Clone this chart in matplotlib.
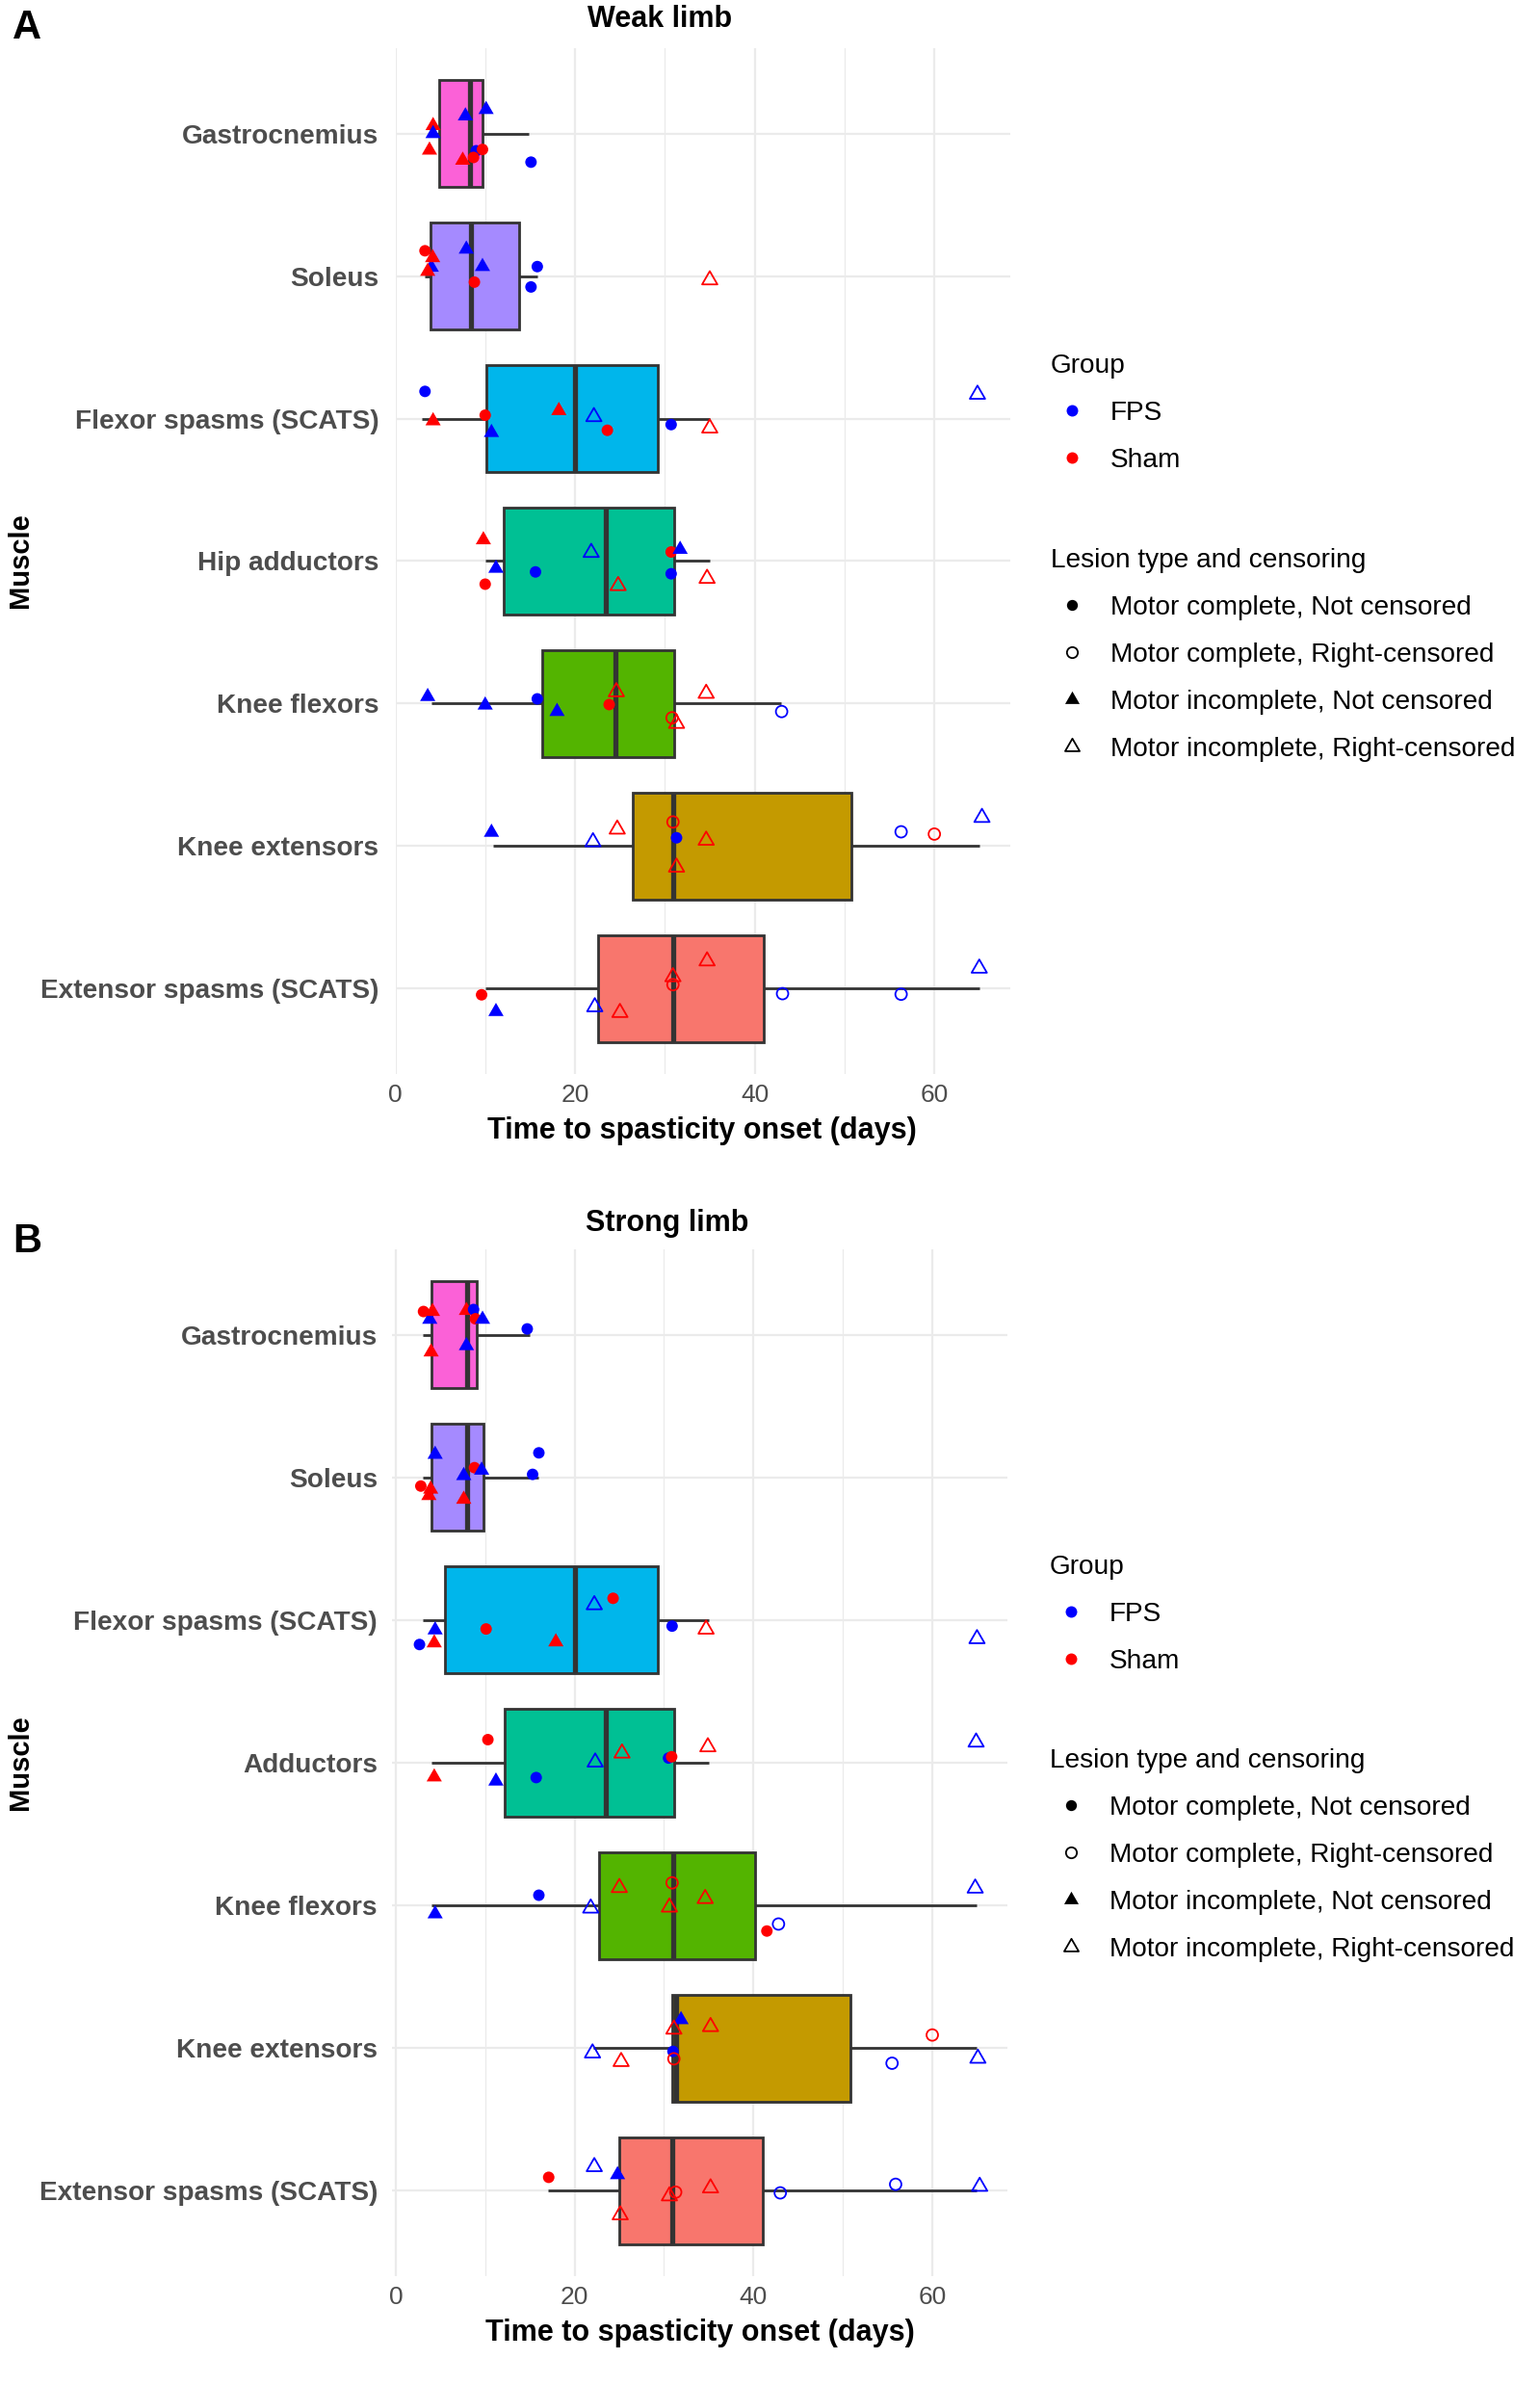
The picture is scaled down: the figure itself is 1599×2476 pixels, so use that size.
import matplotlib
matplotlib.use("Agg")
import matplotlib.pyplot as plt
from matplotlib.path import Path
from matplotlib.lines import Line2D
import numpy as np

plt.rcParams['font.family'] = ['Liberation Sans', 'DejaVu Sans']

# ---------------- data ----------------
weak_muscles = ["Gastrocnemius", "Soleus", "Flexor spasms (SCATS)", "Hip adductors",
                "Knee flexors", "Knee extensors", "Extensor spasms (SCATS)"]
strong_muscles = ["Gastrocnemius", "Soleus", "Flexor spasms (SCATS)", "Adductors",
                  "Knee flexors", "Knee extensors", "Extensor spasms (SCATS)"]
box_colors = ["#FB61D7", "#A58AFF", "#00B6EB", "#00C094", "#53B400", "#C49A00", "#F8766D"]

# box statistics (days)
weak_q1 = [4.9, 3.9, 10.1, 12.1, 16.4, 26.4, 22.6]
weak_med = [8.35, 8.4, 20.0, 23.4, 24.5, 30.9, 30.9]
weak_q3 = [9.7, 13.75, 29.2, 31.0, 31.0, 50.8, 41.0]
weak_lo = [3.8, 3.3, 2.9, 10.0, 4.0, 10.9, 10.0]
weak_hi = [14.9, 15.85, 35.0, 35.0, 42.9, 65.0, 65.0]

strong_q1 = [4.0, 4.0, 5.5, 12.2, 22.7, 30.9, 25.0]
strong_med = [8.0, 8.0, 20.0, 23.5, 31.0, 31.4, 30.9]
strong_q3 = [9.1, 9.8, 29.3, 31.1, 40.2, 50.8, 41.0]
strong_lo = [3.05, 3.05, 3.05, 4.0, 4.0, 22.1, 17.0]
strong_hi = [15.0, 15.9, 35.0, 35.0, 64.9, 64.9, 64.9]

# individual observations: row index, days, group, lesion/censoring type, vertical jitter
# types: CN = motor complete not censored, CR = motor complete right-censored,
#        IN = motor incomplete not censored, IR = motor incomplete right-censored
weak_pt_row = [0]*10 + [1]*10 + [2]*10 + [3]*10 + [4]*10 + [5]*10 + [6]*10
weak_pt_days = [7.8, 10.1, 4.2, 4.2, 3.8, 7.5, 9.0, 9.7, 8.7, 15.1,
                3.3, 4.0, 4.15, 3.6, 7.9, 9.7, 8.8, 15.8, 15.1, 35.0,
                3.3, 4.2, 10.0, 10.7, 18.2, 22.1, 23.6, 30.7, 35.0, 64.8,
                9.8, 11.2, 10.0, 15.6, 21.8, 24.8, 30.7, 31.7, 30.7, 34.7,
                3.6, 10.0, 15.8, 18.0, 23.8, 24.6, 34.6, 30.8, 31.3, 43.0,
                10.7, 22.0, 24.7, 30.9, 31.3, 34.6, 31.3, 56.3, 60.0, 65.3,
                9.6, 11.2, 22.2, 25.0, 30.9, 30.9, 34.7, 43.1, 56.3, 65.0]
weak_pt_group = ["FPS", "FPS", "Sham", "FPS", "Sham", "Sham", "FPS", "Sham", "Sham", "FPS",
                 "Sham", "FPS", "Sham", "Sham", "FPS", "FPS", "Sham", "FPS", "FPS", "Sham",
                 "FPS", "Sham", "Sham", "FPS", "Sham", "FPS", "Sham", "FPS", "Sham", "FPS",
                 "Sham", "FPS", "Sham", "FPS", "FPS", "Sham", "Sham", "FPS", "FPS", "Sham",
                 "FPS", "FPS", "FPS", "FPS", "Sham", "Sham", "Sham", "Sham", "Sham", "FPS",
                 "FPS", "FPS", "Sham", "Sham", "FPS", "Sham", "Sham", "FPS", "Sham", "FPS",
                 "Sham", "FPS", "FPS", "Sham", "Sham", "Sham", "Sham", "FPS", "FPS", "FPS"]
weak_pt_type = ["IN", "IN", "IN", "IN", "IN", "IN", "CN", "CN", "CN", "CN",
                "CN", "IN", "IN", "IN", "IN", "IN", "CN", "CN", "CN", "IR",
                "CN", "IN", "CN", "IN", "IN", "IR", "CN", "CN", "IR", "IR",
                "IN", "IN", "CN", "CN", "IR", "IR", "CN", "IN", "CN", "IR",
                "IN", "IN", "CN", "IN", "CN", "IR", "IR", "CR", "IR", "CR",
                "IN", "IR", "IR", "CR", "CN", "IR", "IR", "CR", "CR", "IR",
                "CN", "IN", "IR", "IR", "IR", "CR", "IR", "CR", "CR", "IR"]
weak_pt_jitter = [-0.124, -0.169, -0.056, 0.0, 0.116, 0.187, 0.12, 0.111, 0.167, 0.2,
                  -0.178, -0.062, -0.129, -0.033, -0.189, -0.067, 0.042, -0.067, 0.076, 0.027,
                  -0.191, 0.016, -0.024, 0.098, -0.056, -0.013, 0.082, 0.042, 0.067, -0.17,
                  -0.149, 0.051, 0.162, 0.076, -0.06, 0.173, -0.064, -0.082, 0.089, 0.122,
                  -0.049, 0.011, -0.033, 0.056, 0.007, -0.082, -0.071, 0.1, 0.14, 0.056,
                  -0.096, -0.029, -0.118, -0.169, -0.058, -0.04, 0.149, -0.1, -0.084, -0.2,
                  0.044, 0.162, 0.129, 0.169, -0.082, -0.027, -0.193, 0.036, 0.04, -0.142]

strong_pt_row = [0]*10 + [1]*10 + [2]*10 + [3]*10 + [4]*10 + [5]*10 + [6]*10
strong_pt_days = [3.1, 3.8, 4.1, 3.95, 7.9, 8.7, 8.9, 9.7, 7.9, 14.7,
                  4.4, 2.8, 3.9, 3.7, 7.6, 7.6, 8.8, 9.6, 16.0, 15.3,
                  4.4, 2.65, 4.3, 10.1, 17.9, 22.2, 24.3, 30.9, 34.7, 65.0,
                  10.3, 4.3, 11.2, 15.7, 22.3, 25.3, 30.5, 30.85, 34.9, 64.9,
                  16.0, 4.4, 21.8, 25.0, 30.9, 30.6, 34.6, 64.8, 41.5, 42.8,
                  22.0, 25.2, 31.9, 31.1, 35.2, 31.0, 31.1, 55.5, 60.0, 65.1,
                  17.1, 22.2, 24.8, 25.1, 30.6, 31.3, 35.2, 43.0, 55.9, 65.3]
strong_pt_group = ["Sham", "FPS", "Sham", "Sham", "Sham", "FPS", "Sham", "FPS", "FPS", "FPS",
                   "FPS", "Sham", "Sham", "Sham", "FPS", "Sham", "Sham", "FPS", "FPS", "FPS",
                   "FPS", "FPS", "Sham", "Sham", "Sham", "FPS", "Sham", "FPS", "Sham", "FPS",
                   "Sham", "Sham", "FPS", "FPS", "FPS", "Sham", "FPS", "Sham", "Sham", "FPS",
                   "FPS", "FPS", "FPS", "Sham", "Sham", "Sham", "Sham", "FPS", "Sham", "FPS",
                   "FPS", "Sham", "FPS", "Sham", "Sham", "FPS", "Sham", "FPS", "Sham", "FPS",
                   "Sham", "FPS", "FPS", "Sham", "Sham", "Sham", "Sham", "FPS", "FPS", "FPS"]
strong_pt_type = ["CN", "IN", "IN", "IN", "IN", "CN", "CN", "IN", "IN", "CN",
                  "IN", "CN", "IN", "IN", "IN", "IN", "CN", "IN", "CN", "CN",
                  "IN", "CN", "IN", "CN", "IN", "IR", "CN", "CN", "IR", "IR",
                  "CN", "IN", "IN", "CN", "IR", "IR", "CN", "CN", "IR", "IR",
                  "CN", "IN", "IR", "IR", "CR", "IR", "IR", "IR", "CN", "CR",
                  "IR", "IR", "IN", "IR", "IR", "CN", "CR", "CR", "CR", "IR",
                  "CN", "IR", "IN", "IR", "IR", "CR", "IR", "CR", "CR", "IR"]
strong_pt_jitter = [-0.164, -0.109, -0.164, 0.12, -0.171, -0.178, -0.113, -0.109, 0.076, -0.042,
                    -0.162, 0.06, 0.082, 0.127, -0.013, 0.153, -0.069, -0.051, -0.173, -0.022,
                    0.069, 0.171, 0.16, 0.062, 0.153, -0.107, -0.153, 0.042, 0.064, 0.131,
                    -0.162, 0.1, 0.129, 0.104, -0.004, -0.067, -0.033, -0.042, -0.111, -0.144,
                    -0.071, 0.06, 0.02, -0.124, -0.158, 0.013, -0.047, -0.12, 0.18, 0.131,
                    0.036, 0.096, -0.198, -0.131, -0.149, 0.024, 0.076, 0.107, -0.091, 0.073,
                    -0.093, -0.167, -0.111, 0.171, 0.038, 0.011, -0.018, 0.016, -0.044, -0.029]

group_labels = ["FPS", "Sham"]
group_colors = {"FPS": "#0000FF", "Sham": "#FF0000"}
type_codes = ["CN", "CR", "IN", "IR"]
type_labels = ["Motor complete, Not censored", "Motor complete, Right-censored",
               "Motor incomplete, Not censored", "Motor incomplete, Right-censored"]

# ---------------- styling ----------------
W, H, DPI = 1599, 2476, 100
TRI = Path([(0.0, 1.555), (-1.347, -0.778), (1.347, -0.778), (0.0, 1.555)],
           [Path.MOVETO, Path.LINETO, Path.LINETO, Path.CLOSEPOLY])
CIRC_MS = 8.6
TRI_MS = 13.2
type_marker = {"CN": ("o", True), "CR": ("o", False), "IN": (TRI, True), "IR": (TRI, False)}
type_ms = {"CN": CIRC_MS, "CR": CIRC_MS, "IN": TRI_MS, "IR": TRI_MS}
EDGE = "#333333"
GRID = "#EBEBEB"
TICKCOL = "#4D4D4D"
LEG_FS = 20.2

fig = plt.figure(figsize=(W / DPI, H / DPI), dpi=DPI, facecolor="white")


def px_axes(l, t, r, b):
    return fig.add_axes([l / W, 1 - b / H, (r - l) / W, (b - t) / H])


def ftext(x, y, s, **kw):
    return fig.text(x / W, 1 - y / H, s, **kw)


def draw_panel(ax, muscles, q1, med, q3, lo, hi, rows, days, groups, types, jit, xlim, ypad):
    stats = [dict(med=med[i], q1=q1[i], q3=q3[i], whislo=lo[i], whishi=hi[i], fliers=[])
             for i in range(len(muscles))]
    kw = dict(positions=list(range(len(muscles))), widths=0.75, patch_artist=True,
              showcaps=False, showfliers=False, manage_ticks=False,
              boxprops=dict(edgecolor=EDGE, linewidth=2.0),
              whiskerprops=dict(color=EDGE, linewidth=2.0, solid_capstyle="butt"),
              medianprops=dict(color=EDGE, linewidth=3.8, solid_capstyle="butt"))
    try:
        bp = ax.bxp(stats, orientation="horizontal", **kw)
    except TypeError:
        bp = ax.bxp(stats, vert=False, **kw)
    for patch, c in zip(bp["boxes"], box_colors):
        patch.set_facecolor(c)
        patch.set_zorder(2)

    rows = np.asarray(rows, float)
    days = np.asarray(days, float)
    jit = np.asarray(jit, float)
    for i in range(len(days)):
        mk, filled = type_marker[types[i]]
        col = group_colors[groups[i]]
        ms = type_ms[types[i]]
        if filled:
            ax.scatter([days[i]], [rows[i] + jit[i]], s=ms ** 2, marker=mk,
                       facecolors=col, edgecolors="none", linewidths=0, zorder=4)
        else:
            ax.scatter([days[i]], [rows[i] + jit[i]], s=ms ** 2, marker=mk,
                       facecolors="none", edgecolors=col, linewidths=1.3, zorder=4)

    ax.set_xlim(*xlim)
    ax.set_ylim(6.6, -0.6)
    ax.set_facecolor("white")
    for s in ax.spines.values():
        s.set_visible(False)
    ax.set_xticks([0, 20, 40, 60])
    ax.set_xticks([10, 30, 50], minor=True)
    ax.set_xticklabels(["0", "20", "40", "60"], fontsize=19, color=TICKCOL)
    ax.set_yticks(range(len(muscles)))
    ax.set_yticklabels(muscles, fontsize=20.2, fontweight="bold", color=TICKCOL)
    ax.tick_params(axis="both", which="both", length=0)
    ax.tick_params(axis="y", pad=ypad)
    ax.tick_params(axis="x", pad=7)
    ax.set_axisbelow(True)
    ax.grid(which="major", color=GRID, linewidth=1.6)
    ax.grid(which="minor", axis="x", color=GRID, linewidth=0.9)


def add_legends(x_left, group_top, lesion_top):
    gh = [Line2D([], [], ls="none", marker="o", ms=CIRC_MS, mfc=group_colors[g], mec="none")
          for g in group_labels]
    common = dict(loc="upper left", frameon=False, fontsize=LEG_FS, title_fontsize=LEG_FS,
                  alignment="left", borderpad=0, borderaxespad=0, handlelength=1.6,
                  handletextpad=0.6, labelspacing=0.82)
    leg1 = fig.legend(gh, group_labels, title="Group",
                      bbox_to_anchor=(x_left / W, 1 - group_top / H), **common)
    th = []
    for t in type_codes:
        mk, filled = type_marker[t]
        if filled:
            th.append(Line2D([], [], ls="none", marker=mk, ms=type_ms[t] * 0.95, mfc="black", mec="none"))
        else:
            th.append(Line2D([], [], ls="none", marker=mk, ms=type_ms[t] * 0.95, mfc="none",
                             mec="black", mew=1.3))
    leg2 = fig.legend(th, type_labels, title="Lesion type and censoring",
                      bbox_to_anchor=(x_left / W, 1 - lesion_top / H), **common)
    return leg1, leg2


# ---------------- panel A ----------------
axA = px_axes(410.5, 50, 1048.5, 1115)
draw_panel(axA, weak_muscles, weak_q1, weak_med, weak_q3, weak_lo, weak_hi,
           weak_pt_row, weak_pt_days, weak_pt_group, weak_pt_type, weak_pt_jitter,
           (0.16, 68.4), 12.5)
ftext(13, 40, "A", fontsize=30, fontweight="bold", ha="left", va="baseline")
ftext(610, 28, "Weak limb", fontsize=22, fontweight="bold", ha="left", va="baseline")
ftext(729, 1182, "Time to spasticity onset (days)", fontsize=22, fontweight="bold",
      ha="center", va="baseline")
ftext(21, 582, "Muscle", fontsize=21, fontweight="bold", rotation=90, ha="center", va="center")
add_legends(1091, 367, 569)

# ---------------- panel B ----------------
axB = px_axes(406.5, 1297, 1046, 2363)
draw_panel(axB, strong_muscles, strong_q1, strong_med, strong_q3, strong_lo, strong_hi,
           strong_pt_row, strong_pt_days, strong_pt_group, strong_pt_type, strong_pt_jitter,
           (-0.48, 68.4), 10.5)
ftext(13, 1300, "B", fontsize=30, fontweight="bold", ha="left", va="baseline")
ftext(608, 1278, "Strong limb", fontsize=22, fontweight="bold", ha="left", va="baseline")
ftext(727, 2430, "Time to spasticity onset (days)", fontsize=22, fontweight="bold",
      ha="center", va="baseline")
ftext(21, 1830, "Muscle", fontsize=21, fontweight="bold", rotation=90, ha="center", va="center")
add_legends(1090, 1614, 1815)

fig.savefig("out.png", dpi=DPI, facecolor="white")
